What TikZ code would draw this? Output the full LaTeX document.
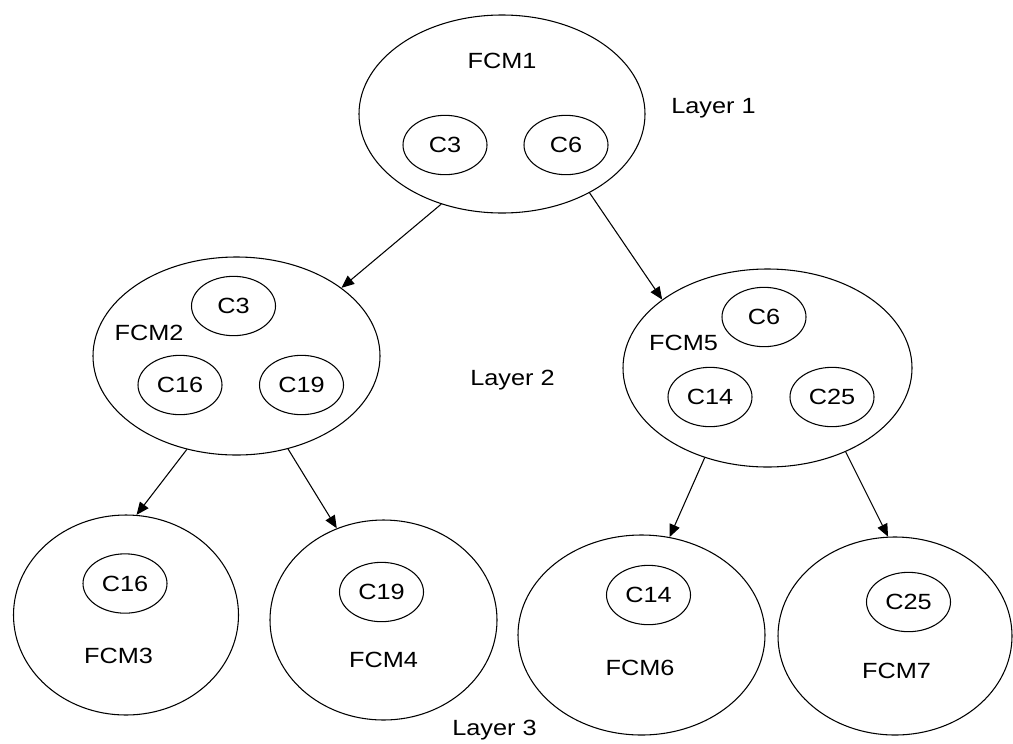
\documentclass[tikz,border=0pt]{standalone}
\usepackage{fontspec}
\setmainfont[FakeStretch=1.15]{Liberation Sans}
\usetikzlibrary{shapes.geometric,arrows.meta}
\begin{document}
\begin{tikzpicture}[x=0.75pt,y=-0.75pt,
  every node/.style={font=\fontsize{16.5}{19}\selectfont, text=black},
  big/.style={draw, ellipse, inner sep=0pt, line width=0.8pt},
  small/.style={draw, ellipse, inner sep=0pt, line width=0.8pt, minimum width=63pt, minimum height=44.5pt},
  lbl/.style={inner sep=0pt, anchor=base},
  layer/.style={inner sep=0pt, anchor=base west},
  link/.style={line width=0.8pt, -{Triangle[length=9.5pt,width=8pt]}}]
\useasboundingbox (0,0) rectangle (1013,743);

% Layer 1
\node[big, minimum width=214.5pt, minimum height=148.5pt] (fcm1) at (502,114) {};
\node[lbl] (t1) at (502,68) {FCM1};
\node[small] (a3) at (445,145) {C3};
\node[small] (a6) at (566,145) {C6};
\node[layer] (l1) at (671,113) {Layer 1};

% Layer 2
\node[big, minimum width=215.25pt, minimum height=148.5pt] (fcm2) at (236.5,356) {};
\node[lbl] (t2) at (149,340) {FCM2};
\node[small] (b3) at (233.5,306) {C3};
\node[small] (b16) at (180,385) {C16};
\node[small] (b19) at (301.5,385) {C19};

\node[big, minimum width=216.75pt, minimum height=148.5pt] (fcm5) at (767.5,368) {};
\node[lbl] (t5) at (683.5,350) {FCM5};
\node[small] (e6) at (764,317) {C6};
\node[small] (e14) at (710,397) {C14};
\node[small] (e25) at (832,397) {C25};
\node[layer] (l2) at (470,385) {Layer 2};

% Layer 3
\node[big, minimum width=168.75pt, minimum height=150pt] (fcm3) at (126,615) {};
\node[small] (c16) at (125,583.5) {C16};
\node[lbl] (t3) at (118.5,663) {FCM3};

\node[big, minimum width=170.25pt, minimum height=150pt] (fcm4) at (383.5,620) {};
\node[small] (d19) at (381.5,592) {C19};
\node[lbl] (t4) at (383.5,667) {FCM4};

\node[big, minimum width=185.25pt, minimum height=150pt] (fcm6) at (641.5,635) {};
\node[small] (f14) at (648.5,595) {C14};
\node[lbl] (t6) at (640,675) {FCM6};

\node[big, minimum width=175.5pt, minimum height=148.5pt] (fcm7) at (895,636) {};
\node[small] (g25) at (908.5,602) {C25};
\node[lbl] (t7) at (896.5,678) {FCM7};

\node[layer] (l3) at (452,735) {Layer 3};

% connectors
\draw[link] (fcm1.236) -- (fcm2.33);
\draw[link] (fcm1.318) -- (fcm5.147);
\draw[link] (fcm2.242) -- (fcm3.84);
\draw[link] (fcm2.299) -- (fcm4.117);
\draw[link] (fcm5.235) -- (fcm6.74);
\draw[link] (fcm5.313) -- (fcm7.94);
\end{tikzpicture}
\end{document}
